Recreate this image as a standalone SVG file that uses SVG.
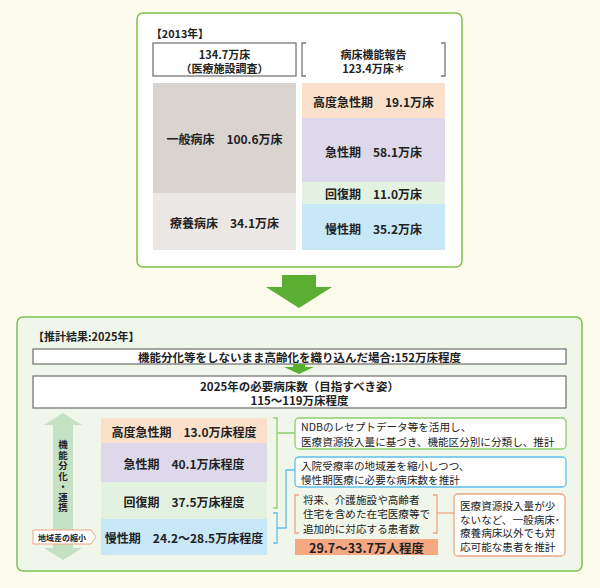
<svg xmlns="http://www.w3.org/2000/svg" width="600" height="588" viewBox="0 0 600 588">
<style>
text{font-family:"Noto Sans CJK JP","Noto Sans",sans-serif;fill:#222;dominant-baseline:central}
.b{font-weight:bold}
.c{text-anchor:middle}
.panel{stroke:#7cc250;stroke-width:1.5}
.gbox{fill:#fff;stroke:#777;stroke-width:1.3}
.pe{fill:#fbe1cb}.la{fill:#ddd9eb}.lg{fill:#e3f1e1}.lb{fill:#c8e8f8}
.br{fill:none;stroke-width:1.3}
.n{font-size:10.6px}
.vt{font-size:9.5px;writing-mode:vertical-rl;letter-spacing:1px}
</style>
<rect width="600" height="588" fill="#fdfbeb"/>

<g id="panel2013">
<rect class="panel" x="137" y="13" width="325" height="254" rx="6" fill="#fff"/>
<text class="b" x="151" y="33" font-size="10.8">【2013年】</text>
</g>
<g id="total2013">
<rect class="gbox" x="153" y="43" width="143" height="33"/>
<text class="b c" x="224.5" y="54" font-size="11">134.7万床</text>
<text class="b c" x="224.5" y="68" font-size="11">（医療施設調査）</text>
</g>
<g id="report2013">
<path class="br" stroke="#777" d="M306,43H302V76H306M441,43H445V76H441"/>
<text class="b c" x="373.5" y="54" font-size="11">病床機能報告</text>
<text class="b c" x="373.5" y="68" font-size="11">123.4万床＊</text>
</g>
<g id="general2013">
<rect x="153" y="83" width="143" height="110" fill="#d9d4d0"/>
<text class="b c" x="224.5" y="138" font-size="12">一般病床　100.6万床</text>
</g>
<g id="ryoyo2013">
<rect x="153" y="193" width="143" height="57" fill="#ebe7e4"/>
<text class="b c" x="224.5" y="222" font-size="12">療養病床　34.1万床</text>
</g>
<g id="kodo2013">
<rect class="pe" x="302" y="83" width="143" height="35"/>
<text class="b c" x="373.5" y="101" font-size="12">高度急性期　19.1万床</text>
</g>
<g id="kyusei2013">
<rect class="la" x="302" y="118" width="143" height="64"/>
<text class="b c" x="373.5" y="151" font-size="12">急性期　58.1万床</text>
</g>
<g id="kaifuku2013">
<rect class="lg" x="302" y="182" width="143" height="22"/>
<text class="b c" x="373.5" y="193" font-size="12">回復期　11.0万床</text>
</g>
<g id="mansei2013">
<rect class="lb" x="302" y="204" width="143" height="46"/>
<text class="b c" x="373.5" y="228" font-size="12">慢性期　35.2万床</text>
</g>

<g id="bigArrow">
<polygon points="282,275 316,275 316,287 332,287 299,308 266,287 282,287" fill="#5aae32"/>
</g>

<g id="panel2025">
<rect class="panel" x="17" y="317" width="565" height="254" rx="6" fill="#f1f6ea"/>
<text class="b" x="33" y="336" font-size="11">【推計結果:2025年】</text>
</g>
<g id="noChange">
<rect class="gbox" x="33" y="349" width="533" height="15"/>
<text class="b c" x="299.5" y="357" font-size="11.5">機能分化等をしないまま高齢化を織り込んだ場合:152万床程度</text>
</g>
<g id="smallArrow">
<polygon points="293,364 305,364 305,367 314,367 299,374 284,367 293,367" fill="#5aae32"/>
</g>
<g id="target2025">
<rect class="gbox" x="33" y="376" width="533" height="32"/>
<text class="b c" x="299.5" y="386" font-size="11.5">2025年の必要病床数（目指すべき姿）</text>
<text class="b c" x="299.5" y="400" font-size="11.5">115～119万床程度</text>
</g>
<g id="vArrow">
<polygon points="63,413 82,425 73,425 73,548 82,548 63,560 44,548 53,548 53,425 44,425" fill="#c4e1c3"/>
<text class="b vt" x="63" y="440">機能分化・連携</text>
</g>
<g id="tag">
<polygon points="33,530 91,530 96,537 91,544 33,544" fill="#fff" stroke="#f0a585" stroke-width="1"/>
<text class="b c" x="62" y="537" font-size="8">地域差の縮小</text>
</g>
<g id="kodo2025">
<rect class="pe" x="101" y="418" width="166" height="25"/>
<text class="b c" x="184" y="431" font-size="12">高度急性期　13.0万床程度</text>
</g>
<g id="kyusei2025">
<rect class="la" x="101" y="443" width="166" height="39"/>
<text class="b c" x="184" y="463" font-size="12">急性期　40.1万床程度</text>
</g>
<g id="kaifuku2025">
<rect class="lg" x="101" y="482" width="166" height="37"/>
<text class="b c" x="184" y="501" font-size="12">回復期　37.5万床程度</text>
</g>
<g id="mansei2025">
<rect class="lb" x="101" y="519" width="166" height="36"/>
<text class="b c" x="184" y="537" font-size="12">慢性期　24.2～28.5万床程度</text>
</g>

<g id="connectors">
<path class="br" stroke="#8ccd6e" d="M273,418H277V508H273M277,433H295"/>
<path class="br" stroke="#5cc0ea" d="M273,513H277V543H273M277,528H286V470H295"/>
<path class="br" stroke="#f0a585" d="M437,513H454"/>
</g>

<g id="ndb">
<rect x="295" y="418" width="271" height="31" rx="4" fill="#fff" stroke="#8ccd6e" stroke-width="1.3"/>
<text class="n" x="301" y="426">NDBのレセプトデータ等を活用し、</text>
<text class="n" x="301" y="441">医療資源投入量に基づき、機能区分別に分類し、推計</text>
</g>
<g id="chiiki">
<rect x="295" y="457" width="271" height="30" rx="4" fill="#fff" stroke="#5cc0ea" stroke-width="1.3"/>
<text class="n" x="301" y="465">入院受療率の地域差を縮小しつつ、</text>
<text class="n" x="301" y="479">慢性期医療に必要な病床数を推計</text>
</g>
<g id="zaitaku">
<path class="br" stroke="#f0a585" d="M299,495H295V533H299M433,495H437V533H433"/>
<text class="n" x="303" y="499">将来、介護施設や高齢者</text>
<text class="n" x="303" y="513">住宅を含めた在宅医療等で</text>
<text class="n" x="303" y="528">追加的に対応する患者数</text>
</g>
<g id="zaitakuNum">
<rect x="295" y="539" width="143" height="16" fill="#f6a882"/>
<text class="b c" x="366.5" y="547" font-size="12.5">29.7～33.7万人程度</text>
</g>
<g id="iryoShigen">
<rect x="454" y="494" width="111" height="62" rx="4" fill="#fff" stroke="#f0a585" stroke-width="1.3"/>
<text class="n" x="460" y="505.5" font-size="10.5">医療資源投入量が少</text>
<text class="n" x="460" y="519" font-size="10.5">ないなど、一般病床･</text>
<text class="n" x="460" y="532.5" font-size="10.5">療養病床以外でも対</text>
<text class="n" x="460" y="546" font-size="10.5">応可能な患者を推計</text>
</g>
</svg>
